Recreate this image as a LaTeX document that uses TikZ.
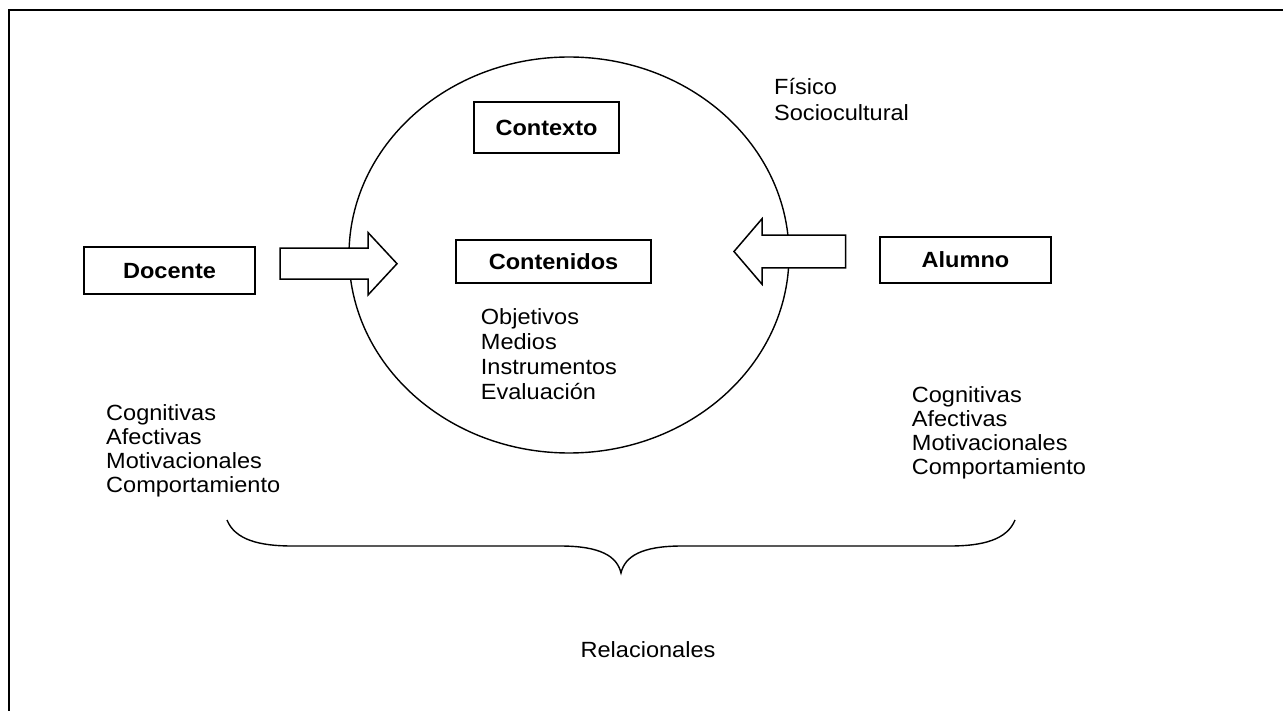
\documentclass[tikz,border=0pt]{standalone}
\usepackage{fontspec}
\setmainfont{Liberation Sans}[FakeStretch=1.07]
\begin{document}
\begin{tikzpicture}[x=1pt,y=-1pt,
  box/.style={draw,line width=2pt,inner sep=0pt,font=\bfseries\fontsize{22}{24}\selectfont,text height=15.75pt,text depth=0pt},
  txt/.style={font=\fontsize{22}{24}\selectfont,inner sep=0pt},
  lst/.style={txt,align=left,anchor=north west},
  thinline/.style={line width=1.4pt},
  blockarrow/.style={line width=1.5pt,fill=white,line join=miter}]
\useasboundingbox (0,0) rectangle (1283,711);
% frame (top and left edges)
\draw[line width=2pt] (9,711) -- (9,10) -- (1283,10);
% ellipse
\draw[thinline] (569,255) ellipse [x radius=220, y radius=198];
% boxes
\node[box,minimum width=171pt,minimum height=47pt] (docente) at (169.5,270.5) {Docente};
\node[box,minimum width=145pt,minimum height=51pt] (contexto) at (546.5,127.5) {Contexto};
\node[box,minimum width=195pt,minimum height=43pt] (contenidos) at (553.5,261.5) {Contenidos};
\node[box,minimum width=171pt,minimum height=46pt] (alumno) at (965.5,260) {Alumno};
% block arrows
\draw[blockarrow] (280,248.2) -- (368,248.2) -- (368,232.5) -- (397,263.7) -- (368,295) -- (368,279.2) -- (280,279.2) -- cycle;
\draw[blockarrow] (845.7,235.2) -- (762,235.2) -- (762,218.8) -- (734,251.5) -- (762,284.2) -- (762,267.8) -- (845.7,267.8) -- cycle;
% texts
\node[txt,anchor=base west] (fisico) at (774,95) {Físico};
\node[txt,anchor=base west] (socio) at (774,121) {Sociocultural};
\node[lst,font=\fontsize{22}{25}\selectfont] (listcont) at (480.7,308) {Objetivos\\Medios\\Instrumentos\\Evaluación};
\node[lst] (listdoc) at (106,404) {Cognitivas\\Afectivas\\Motivacionales\\Comportamiento};
\node[lst] (listalu) at (911.7,386) {Cognitivas\\Afectivas\\Motivacionales\\Comportamiento};
\node[txt] (relac) at (648,650) {Relacionales};
% brace
\draw[thinline] (227,520) .. controls (235,540) and (260,546) .. (292,546) -- (560,546)
  .. controls (600,546) and (617,556) .. (621,573)
  .. controls (625,556) and (642,546) .. (682,546) -- (950,546)
  .. controls (982,546) and (1007,540) .. (1015,520);
\end{tikzpicture}
\end{document}
